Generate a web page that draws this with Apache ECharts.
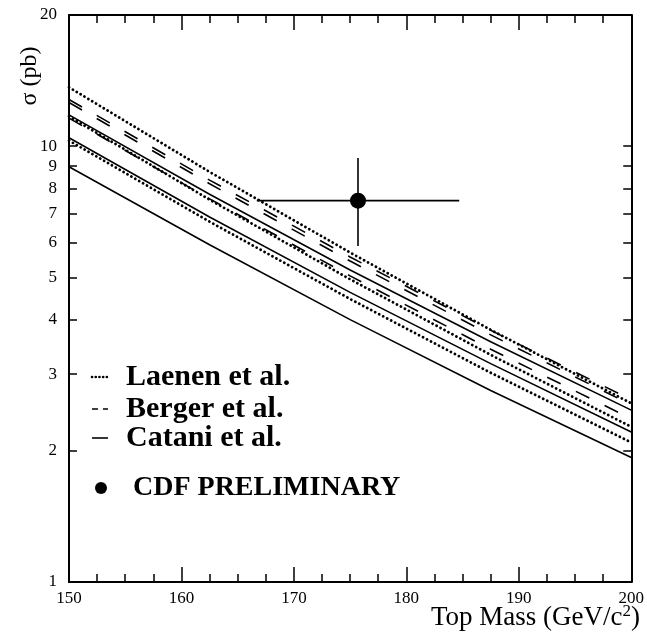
<!DOCTYPE html>
<html>
<head>
<meta charset="utf-8">
<script src="https://cdn.jsdelivr.net/npm/echarts@6/dist/echarts.min.js"></script>
<style>
  html, body { margin: 0; padding: 0; background: #fff; }
  #chart { width: 647px; height: 639px; }
</style>
</head>
<body>
<div id="chart"></div>
<script>
// top mass grid (GeV/c^2)
const mass = [150, 162.5, 175, 187.5, 200];

// Laenen et al. (dotted): upper, central, lower
const laenenUp = [13.65, 8.73, 5.70, 3.79, 2.57];
const laenenCen = [11.7, 7.54, 4.95, 3.32, 2.27];
const laenenLow = [10.3, 6.71, 4.46, 3.02, 2.09];

// Berger et al. (dashed)
const bergerA = [12.8, 8.36, 5.57, 3.78, 2.62];
const bergerB = [12.6, 8.20, 5.45, 3.69, 2.55];
const bergerC = [11.6, 7.57, 5.04, 3.42, 2.37];

// Catani et al. (solid)
const cataniUp = [11.8, 7.76, 5.20, 3.56, 2.48];
const cataniCen = [10.46, 6.88, 4.62, 3.17, 2.21];
const cataniLow = [8.97, 5.94, 4.00, 2.75, 1.93];

// CDF preliminary measurement
const cdfMass = 175.7;
const cdfSigma = 7.5;
const massRange = [166.7, 184.7];
const sigmaRange = [5.9, 9.4];

const yTicks = [1, 2, 3, 4, 5, 6, 7, 8, 9, 10, 20];

const serif = 'Liberation Serif';
const pts = (ys) => mass.map((m, i) => [m, ys[i]]);

const dotted = { color: '#000', width: 2.8, type: [0.1, 4.4], cap: 'round', opacity: 1 };
const dashed = { color: '#000', width: 1.6, type: [15, 17], opacity: 1 };
const solid = { color: '#000', width: 1.6, type: 'solid', opacity: 1 };

function curve(ys, style) {
  return {
    type: 'line',
    data: pts(ys),
    showSymbol: false,
    symbol: 'none',
    silent: true,
    lineStyle: style
  };
}

function xAx(pos, labels) {
  return {
    type: 'value',
    position: pos,
    min: 150,
    max: 200,
    interval: 10,
    axisLine: { onZero: false, lineStyle: { color: '#000', width: 2 } },
    axisTick: { inside: true, length: 15, lineStyle: { color: '#000', width: 1.5 } },
    minorTick: { show: true, splitNumber: 4, length: 8, lineStyle: { color: '#000', width: 1.5 } },
    axisLabel: { show: labels, margin: 8, color: '#000', fontFamily: serif, fontSize: 17 },
    splitLine: { show: false }
  };
}

function yAx(pos, labels) {
  return {
    type: 'log',
    logBase: 10,
    position: pos,
    min: 1,
    max: 20,
    axisLine: { onZero: false, lineStyle: { color: '#000', width: 2 } },
    axisTick: { inside: true, length: 8, customValues: yTicks, lineStyle: { color: '#000', width: 1.5 } },
    axisLabel: { show: labels, customValues: yTicks, margin: 12, color: '#000', fontFamily: serif, fontSize: 17 },
    splitLine: { show: false },
    minorTick: { show: false }
  };
}

const chart = echarts.init(document.getElementById('chart'));

chart.setOption({
  animation: false,
  backgroundColor: '#fff',
  grid: { left: 69, right: 12, top: 15, bottom: 57 },
  xAxis: [xAx('bottom', true), xAx('top', false)],
  yAxis: [yAx('left', true), yAx('right', false)],
  series: [
    curve(laenenUp, dotted),
    curve(laenenCen, dotted),
    curve(laenenLow, dotted),
    curve(bergerA, dashed),
    curve(bergerB, dashed),
    curve(bergerC, dashed),
    curve(cataniUp, solid),
    curve(cataniCen, solid),
    curve(cataniLow, solid),
    // error bars
    {
      type: 'line',
      data: [[massRange[0], cdfSigma], [massRange[1], cdfSigma]],
      symbol: 'none',
      silent: true,
      lineStyle: { color: '#000', width: 1.6, opacity: 1 }
    },
    {
      type: 'line',
      data: [[cdfMass, sigmaRange[0]], [cdfMass, sigmaRange[1]]],
      symbol: 'none',
      silent: true,
      lineStyle: { color: '#000', width: 1.6, opacity: 1 }
    },
    {
      type: 'scatter',
      data: [[cdfMass, cdfSigma]],
      symbol: 'circle',
      symbolSize: 16,
      silent: true,
      itemStyle: { color: '#000', opacity: 1 },
      z: 5
    }
  ],
  graphic: [
    // axis titles
    {
      type: 'text',
      x: 30, y: 76,
      rotation: Math.PI / 2,
      style: {
        text: 'σ (pb)', fill: '#000',
        font: '24px "Liberation Serif"',
        align: 'center', verticalAlign: 'middle'
      }
    },
    {
      type: 'text',
      right: 7, top: 603,
      style: {
        text: 'Top Mass (GeV/c{s|2})', fill: '#000',
        font: '27px "Liberation Serif"',
        rich: { s: { fontSize: 17, fontFamily: serif, verticalAlign: 'top', padding: [0, 0, 12, 0] } }
      }
    },
    // legend
    { type: 'line', shape: { x1: 92, y1: 377, x2: 107, y2: 377 },
      style: { stroke: '#000', lineWidth: 2.6, lineDash: [0.1, 3.6], lineCap: 'round' } },
    { type: 'line', shape: { x1: 92, y1: 409, x2: 108, y2: 409 },
      style: { stroke: '#000', lineWidth: 1.6, lineDash: [6, 5] } },
    { type: 'line', shape: { x1: 92, y1: 438, x2: 108, y2: 438 },
      style: { stroke: '#000', lineWidth: 1.6 } },
    { type: 'circle', shape: { cx: 101, cy: 488, r: 6 }, style: { fill: '#000' } },
    { type: 'text', x: 126, y: 377,
      style: { text: 'Laenen et al.', fill: '#000', font: 'bold 30px "Liberation Serif"', verticalAlign: 'middle' } },
    { type: 'text', x: 126, y: 409,
      style: { text: 'Berger et al.', fill: '#000', font: 'bold 30px "Liberation Serif"', verticalAlign: 'middle' } },
    { type: 'text', x: 126, y: 438,
      style: { text: 'Catani et al.', fill: '#000', font: 'bold 30px "Liberation Serif"', verticalAlign: 'middle' } },
    { type: 'text', x: 133, y: 488,
      style: { text: 'CDF PRELIMINARY', fill: '#000', font: 'bold 28px "Liberation Serif"', verticalAlign: 'middle' } }
  ]
});
</script>
</body>
</html>
